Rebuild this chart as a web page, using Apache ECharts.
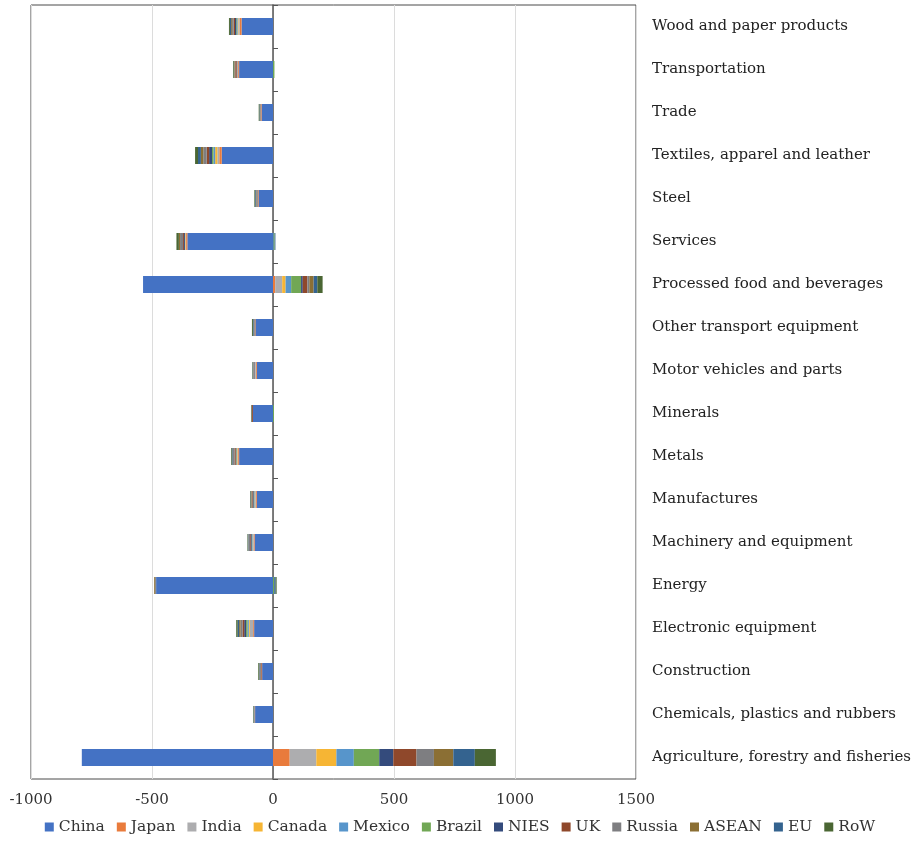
<!DOCTYPE html>
<html>
<head>
<meta charset="utf-8">
<script src="https://cdn.jsdelivr.net/npm/echarts@6/dist/echarts.min.js"></script>
<style>
  html, body { margin: 0; padding: 0; background: #fff; }
  #chart { width: 920px; height: 843px; }
</style>
</head>
<body>
<div id="chart"></div>
<script>
// Sectors, listed bottom to top as the category axis draws them
const sectors = [
  'Agriculture, forestry and fisheries',
  'Chemicals, plastics and rubbers',
  'Construction',
  'Electronic equipment',
  'Energy',
  'Machinery and equipment',
  'Manufactures',
  'Metals',
  'Minerals',
  'Motor vehicles and parts',
  'Other transport equipment',
  'Processed food and beverages',
  'Services',
  'Steel',
  'Textiles, apparel and leather',
  'Trade',
  'Transportation',
  'Wood and paper products'
];

const regions = ['China', 'Japan', 'India', 'Canada', 'Mexico', 'Brazil', 'NIES', 'UK', 'Russia', 'ASEAN', 'EU', 'RoW'];

// Change by region, one value per sector (same order as sectors)
const china  = [-790, -74, -45, -78, -483, -76, -67, -140, -83, -67, -72, -537, -354, -59, -212, -47, -140, -130];
const japan  = [69, -2, -2, -4, 0, -4, -4, -4, 0, -4, -1, 9, -5, -2, -10, -2, -4, -8];
const india  = [110, 0, 0, -14, 0, -3, -3, -3, 0, -1, 0, 29, -3, 0, -8, 0, -2, -5];
const canada = [83, 0, 0, -4, 0, -1, -2, -2, 0, -1, 0, 14, -2, 0, -9, 0, -1, -3];
const mexico = [72, 0, 0, -5, 0, -2, -2, -1, 0, -2, 0, 23, 3, 0, -7, 0, -1, -3];
const brazil = [105, 0, 0, -6, 5, -2, -2, -2, 4, 0, 0, 41, 4, 0, -6, 0, 6, -3];
const nies   = [58, 0, 0, -8, 0, -4, -3, -2, 0, -2, 0, 7, -4, 0, -12, 0, -2, -5];
const uk     = [96, 0, -3, -7, 0, -3, -3, -5, -5, -1, -2, 19, -4, -2, -10, -2, -6, -6];
const russia = [72, -2, -4, -8, -4, -6, -3, -6, 0, -3, -3, 8, -12, -6, -14, -2, -3, -6];
const asean  = [80, 0, -2, -6, -4, -1, -2, -2, 0, -1, -2, 18, -5, -2, -10, -1, -2, -4];
const eu     = [89, -2, -2, -6, 6, -2, -2, -3, -1, -2, -3, 15, 3, -3, -12, -2, -1, -5];
const row    = [87, -2, -3, -6, 4, -2, -2, -3, -2, -2, -4, 22, -10, -3, -12, -3, -3, -4];

const xTicks = { min: -1000, max: 1500, step: 500 };

const seriesValues = [china, japan, india, canada, mexico, brazil, nies, uk, russia, asean, eu, row];
const palette = ['#4472C4', '#E97B3C', '#ADADAF', '#F6B534', '#5795CB', '#71A755',
                 '#344B7C', '#8F482B', '#7E7E81', '#8B6F34', '#34638F', '#4A6633'];

const FONT = 'DejaVu Serif';

const chart = echarts.init(document.getElementById('chart'), null, { renderer: 'canvas' });

chart.setOption({
  animation: false,
  color: palette,
  textStyle: { fontFamily: FONT },
  grid: {
    left: 31, right: 284, top: 5, bottom: 64,
    show: true, borderColor: '#4a4a4a', borderWidth: 1, backgroundColor: 'transparent'
  },
  legend: {
    data: regions,
    bottom: 3,
    left: 'center',
    icon: 'rect',
    itemWidth: 9,
    itemHeight: 9,
    itemGap: 12,
    textStyle: { fontFamily: FONT, fontSize: 15.5, color: '#333' }
  },
  xAxis: {
    type: 'value',
    min: xTicks.min, max: xTicks.max, interval: xTicks.step,
    axisLine: { show: false },
    axisTick: { show: false },
    splitLine: { lineStyle: { color: '#dcdcdc', width: 1 } },
    axisLabel: {
      fontFamily: FONT, fontSize: 15, color: '#333', margin: 14,
      formatter: (v) => String(v)
    }
  },
  yAxis: [
    {
      type: 'category',
      data: sectors,
      position: 'left',
      axisLine: { onZero: true, lineStyle: { color: '#555', width: 1.5 } },
      axisTick: { show: true, inside: true, length: 5, lineStyle: { color: '#555' } },
      axisLabel: { show: false }
    },
    {
      type: 'category',
      data: sectors,
      position: 'right',
      axisLine: { show: false },
      axisTick: { show: false },
      axisLabel: { fontFamily: FONT, fontSize: 15, color: '#222', margin: 16, padding: [3, 0, 0, 0] }
    }
  ],
  series: regions.map((name, i) => ({
    name,
    type: 'bar',
    stack: 'total',
    yAxisIndex: 0,
    barWidth: 17,
    data: seriesValues[i]
  }))
});
</script>
</body>
</html>
